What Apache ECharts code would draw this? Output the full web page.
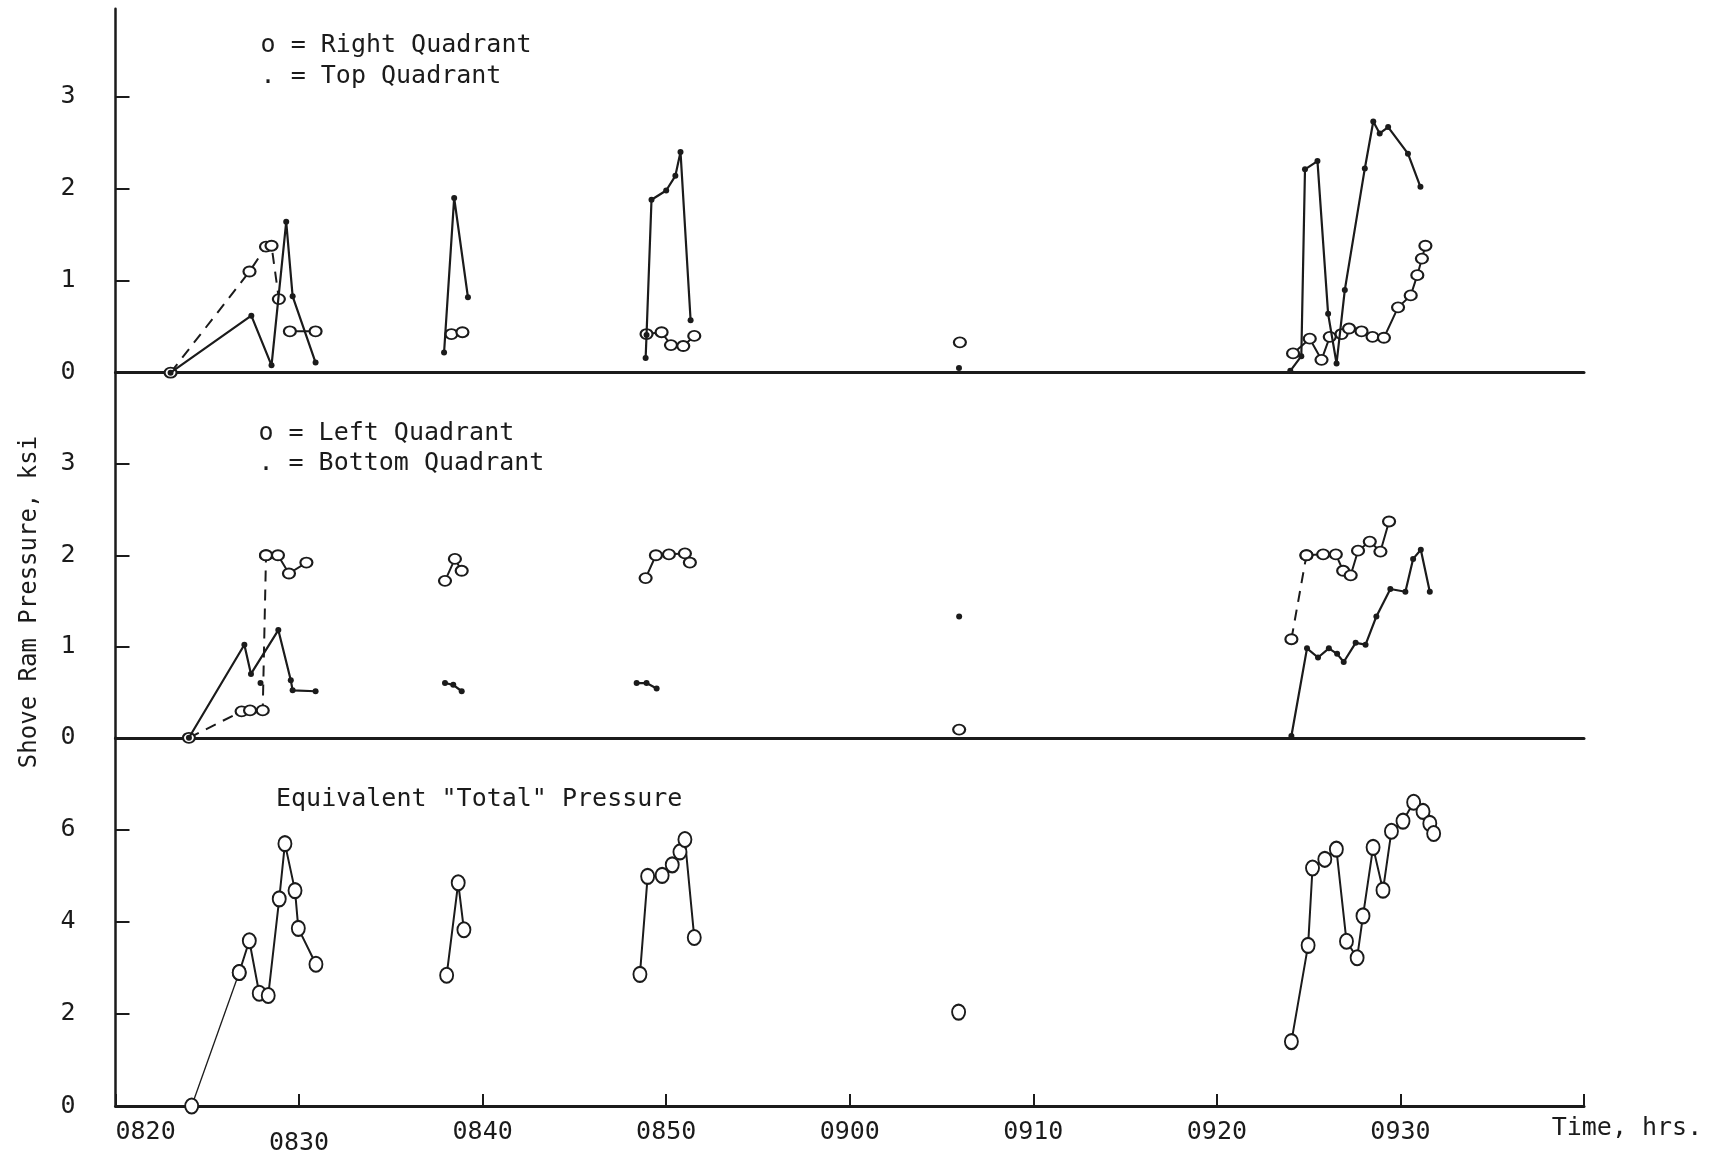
<!DOCTYPE html>
<html><head><meta charset="utf-8">
<script src="https://cdn.jsdelivr.net/npm/echarts@6/dist/echarts.min.js"></script>
<style>html,body{margin:0;padding:0;background:#fff}#c{width:1724px;height:1158px}</style>
</head><body><div id="c"></div>
<script>
// Time values are minutes after 08:00 (e.g. 30 = 0830). null separates disconnected runs.
const xTickLabels = ['0820','0830','0840','0850','0900','0910','0920','0930',''];
const topTicks = [0,1,2,3];
const midTicks = [0,1,2,3];
const totTicks = [0,2,4,6];

// ---- Top panel: Right Quadrant (o) and Top Quadrant (.)
const rightQuadDashT = [23.0, 27.3, 28.2, 28.5, 28.9];
const rightQuadDashV = [0,    1.10, 1.37, 1.38, 0.80];
const rightQuadT = [29.5, 30.9, null, 38.3, 38.9, null, 48.93, 49.75, 50.26, 50.93, 51.53, null, 66.0, null,
  84.15, 85.06, 85.7, 86.15, 86.79, 87.2, 87.88, 88.48, 89.1, 89.87, 90.56, 90.92, 91.17, 91.36];
const rightQuadV = [0.45, 0.45, null, 0.42, 0.44, null, 0.42, 0.44, 0.30, 0.29, 0.40, null, 0.33, null,
  0.21, 0.37, 0.14, 0.39, 0.42, 0.48, 0.45, 0.39, 0.38, 0.71, 0.84, 1.06, 1.24, 1.38];
const topQuadT = [23.0, 27.4, 28.5, 29.3, 29.65, 30.9, null, 37.9, 38.45, 39.2, null,
  48.88, 48.93, 49.2, 50.0, 50.5, 50.78, 51.33, null, 65.95, null,
  84.0, 84.6, 84.8, 85.48, 86.06, 86.52, 86.97, 88.06, 88.52, 88.87, 89.33, 90.41, 91.09];
const topQuadV = [0, 0.62, 0.08, 1.64, 0.83, 0.11, null, 0.22, 1.90, 0.82, null,
  0.16, 0.41, 1.88, 1.98, 2.14, 2.40, 0.57, null, 0.05, null,
  0.02, 0.18, 2.21, 2.30, 0.64, 0.10, 0.90, 2.22, 2.73, 2.60, 2.67, 2.38, 2.02];

// ---- Middle panel: Left Quadrant (o) and Bottom Quadrant (.)
const leftQuadDashT = [24.0, 26.87, 27.33, 28.02, 28.2, null, 84.06, 84.88];
const leftQuadDashV = [0,    0.29,  0.30,  0.30,  2.0,  null, 1.08,  2.0];
const leftQuadT = [28.2, 28.85, 29.45, 30.4, null, 37.95, 38.49, 38.86, null,
  48.88, 49.44, 50.15, 51.02, 51.29, null, 65.96, null,
  84.88, 85.79, 86.48, 86.88, 87.29, 87.69, 88.33, 88.91, 89.38];
const leftQuadV = [2.0, 2.0, 1.80, 1.92, null, 1.72, 1.96, 1.83, null,
  1.75, 2.0, 2.01, 2.02, 1.92, null, 0.09, null,
  2.0, 2.01, 2.01, 1.83, 1.78, 2.05, 2.15, 2.04, 2.37];
const bottomQuadT = [24.0, 27.02, 27.38, 28.87, 29.55, 29.65, 30.9, null, 27.9, null,
  37.95, 38.4, 38.86, null, 48.39, 48.93, 49.48, null, 65.96, null,
  84.06, 84.91, 85.51, 86.1, 86.55, 86.91, 87.56, 88.1, 88.69, 89.45, 90.27, 90.69, 91.11, 91.6];
const bottomQuadV = [0, 1.02, 0.70, 1.18, 0.63, 0.52, 0.51, null, 0.60, null,
  0.60, 0.58, 0.51, null, 0.60, 0.60, 0.54, null, 1.33, null,
  0.02, 0.98, 0.88, 0.98, 0.92, 0.83, 1.04, 1.02, 1.33, 1.63, 1.60, 1.96, 2.06, 1.60];

// ---- Bottom panel: Equivalent "Total" Pressure
const totalThinT = [24.15, 26.74];
const totalThinV = [0, 2.90];
const totalT = [26.74, 27.29, 27.83, 28.32, 28.92, 29.23, 29.78, 29.96, 30.92, null,
  38.04, 38.67, 38.98, null, 48.57, 48.99, 49.78, 50.33, 50.75, 51.02, 51.53, null, 65.93, null,
  84.06, 84.97, 85.21, 85.88, 86.51, 87.06, 87.64, 87.96, 88.51, 89.05, 89.51, 90.14, 90.72, 91.23, 91.6, 91.81];
const totalV = [2.90, 3.59, 2.45, 2.40, 4.50, 5.70, 4.68, 3.86, 3.08, null,
  2.84, 4.85, 3.83, null, 2.86, 4.99, 5.01, 5.24, 5.52, 5.79, 3.66, null, 2.04, null,
  1.40, 3.49, 5.17, 5.36, 5.58, 3.58, 3.22, 4.13, 5.62, 4.69, 5.97, 6.19, 6.60, 6.40, 6.14, 5.92];

const INK = '#1b1b1b';
const FONT = '"DejaVu Sans Mono", "Liberation Mono", monospace';

function runs(T, V) {
  const out = []; let cur = [];
  for (let i = 0; i < T.length; i++) {
    if (T[i] === null) { if (cur.length) out.push(cur); cur = []; }
    else cur.push([T[i], V[i]]);
  }
  if (cur.length) out.push(cur);
  return out;
}
const MARK = {
  circle: { symbol: 'circle', symbolSize: [12, 10], itemStyle: { color: '#fff', borderColor: INK, borderWidth: 2 } },
  big: { symbol: 'circle', symbolSize: [13, 15], itemStyle: { color: '#fff', borderColor: INK, borderWidth: 2 } },
  dot: { symbol: 'circle', symbolSize: 6, itemStyle: { color: INK, borderWidth: 0 } }
};
function build(T, V, axis, mark, lineType, width, z) {
  return runs(T, V).map(pts => Object.assign({
    type: 'line', xAxisIndex: axis, yAxisIndex: axis, data: pts, silent: true, animation: false,
    showSymbol: true, z: z,
    lineStyle: { color: INK, width: width, type: lineType }
  }, MARK[mark]));
}
const DASH = [11, 8];
const series = [].concat(
  build(rightQuadDashT, rightQuadDashV, 0, 'circle', DASH, 2, 3),
  build(rightQuadT, rightQuadV, 0, 'circle', 'solid', 2, 3),
  build(topQuadT, topQuadV, 0, 'dot', 'solid', 2.2, 4),
  build(leftQuadDashT, leftQuadDashV, 1, 'circle', DASH, 2, 3),
  build(leftQuadT, leftQuadV, 1, 'circle', 'solid', 2, 3),
  build(bottomQuadT, bottomQuadV, 1, 'dot', 'solid', 2.2, 4),
  build(totalThinT, totalThinV, 2, 'big', 'solid', 1.3, 3),
  build(totalT, totalV, 2, 'big', 'solid', 2, 3)
);

const L = 115.5, W = 1468.5;
const grids = [
  { left: L, width: W, top: 8.8, height: 363.9 },
  { left: L, width: W, top: 372.7, height: 365.1 },
  { left: L, width: W, top: 737.8, height: 368.2 }
].map(g => Object.assign({ outerBoundsMode: 'none', containLabel: false }, g));

function xAxis(i, labels) {
  return {
    type: 'value', gridIndex: i, min: 20, max: 100, interval: 10,
    axisLine: { show: true, onZero: false, lineStyle: { color: INK, width: 3 } },
    axisTick: { show: labels, inside: true, length: 12, lineStyle: { color: INK, width: 2 } },
    splitLine: { show: false },
    axisLabel: {
      show: labels, color: INK, fontFamily: FONT, fontSize: 25, margin: 14,
      alignMinLabel: 'left',
      formatter: v => {
        const s = xTickLabels[Math.round((v - 20) / 10)] || '';
        return v === 30 ? '{low|' + s + '}' : s;
      },
      rich: { low: { padding: [11, 0, 0, 0], fontFamily: FONT, fontSize: 25, color: INK } }
    }
  };
}
function yAxis(i, max, ticks) {
  return {
    type: 'value', gridIndex: i, min: 0, max: max,
    axisLine: { show: true, lineStyle: { color: INK, width: 2.5 } },
    axisTick: { show: true, inside: true, length: 14, customValues: ticks, lineStyle: { color: INK, width: 2 } },
    splitLine: { show: false },
    axisLabel: { show: true, customValues: ticks, color: INK, fontFamily: FONT, fontSize: 25, margin: 40 }
  };
}

const txt = (x, y, s, extra) => Object.assign({
  type: 'text', x: x, y: y, silent: true,
  style: { text: s, font: '25px ' + FONT, fill: INK, align: 'left', verticalAlign: 'middle', textAlign: 'left', textVerticalAlign: 'middle' }
}, extra || {});

const chart = echarts.init(document.getElementById('c'), null, { renderer: 'canvas' });
chart.setOption({
  backgroundColor: '#fff',
  animation: false,
  grid: grids,
  xAxis: [xAxis(0, false), xAxis(1, false), xAxis(2, true)],
  yAxis: [yAxis(0, 3.955, topTicks), yAxis(1, 4, midTicks), yAxis(2, 8, totTicks)],
  series: series,
  graphic: [
    txt(260.6, 45, 'o = Right Quadrant'),
    txt(260.6, 76, '. = Top Quadrant'),
    txt(258.4, 433, 'o = Left Quadrant'),
    txt(258.4, 463, '. = Bottom Quadrant'),
    txt(276, 799, 'Equivalent "Total" Pressure'),
    txt(1551.7, 1128, 'Time, hrs.'),
    {
      type: 'text', x: 30, y: 602, rotation: Math.PI / 2, silent: true,
      style: { text: 'Shove Ram Pressure, ksi', font: '24px ' + FONT, fill: INK, align: 'center', verticalAlign: 'middle', textAlign: 'center', textVerticalAlign: 'middle' }
    }
  ]
});
</script></body></html>
